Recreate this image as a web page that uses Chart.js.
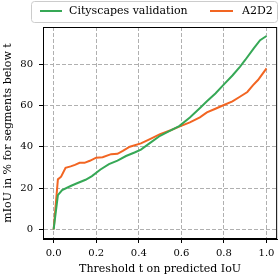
<!DOCTYPE html>
<html>
<head>
<meta charset="utf-8">
<script src="https://cdn.jsdelivr.net/npm/chart.js@4/dist/chart.umd.min.js"></script>
<style>
  html, body { margin: 0; padding: 0; background: #fff; }
  #wrap { width: 279px; height: 279px; }
</style>
</head>
<body>
<div id="wrap"><canvas id="iou-chart" width="279" height="279"></canvas></div>
<script>
// Data
const seriesLabels = ['Cityscapes validation', 'A2D2'];
const seriesColors = ['#36a856', '#f26522'];

const cityX = [0, 0.02, 0.04, 0.08, 0.11, 0.15, 0.18, 0.22, 0.26, 0.3, 0.34, 0.38, 0.41, 0.45,
    0.5, 0.55, 0.59, 0.64, 0.69, 0.72, 0.76, 0.8, 0.84, 0.875, 0.9, 0.94, 0.97, 1.0];
const cityY = [0, 16.6, 19, 21, 22.3, 24, 25.8, 29, 31.6, 33.3, 35.5, 37.2, 38.6, 41.6,
    45.3, 47.9, 50, 54.2, 59, 62, 65.8, 70.2, 74.5, 78.7, 82, 87.6, 91.6, 93.6];

const a2d2X = [0, 0.02, 0.035, 0.056, 0.08, 0.1, 0.122, 0.145, 0.17, 0.2, 0.23, 0.27, 0.3, 0.325,
    0.358, 0.41, 0.45, 0.5, 0.55, 0.59, 0.64, 0.687, 0.72, 0.76, 0.8, 0.84, 0.875, 0.91,
    0.937, 0.96, 0.977, 1.0];
const a2d2Y = [0, 24.2, 25.5, 29.8, 30.5, 31.2, 32.2, 32.2, 33.2, 34.7, 34.9, 36.4, 36.6, 38,
    40, 41.6, 43.6, 46.1, 48, 49.7, 51.8, 54.2, 56.6, 58.4, 60.2, 62, 64.2, 66.5,
    69.8, 72.3, 74.7, 77.9];

const xTicks = [0, 0.2, 0.4, 0.6, 0.8, 1.0];
const yTicks = [0, 20, 40, 60, 80];

const FONT = "'DejaVu Serif', serif";
Chart.defaults.font.family = FONT;
Chart.defaults.font.size = 10;
Chart.defaults.color = '#000';

// Matplotlib-like frame round the plot area
const framePlugin = {
    id: 'frame',
    afterDraw(chart) {
        const a = chart.chartArea;
        const ctx = chart.ctx;
        ctx.save();
        ctx.strokeStyle = '#000';
        ctx.lineWidth = 1;
        ctx.setLineDash([]);
        ctx.strokeRect(a.left + 0.5, a.top + 0.5, a.right - a.left - 1, a.bottom - a.top - 1);
        ctx.restore();
    }
};

// Boxed legend above the plot
const legendPlugin = {
    id: 'boxLegend',
    afterDraw(chart) {
        const ctx = chart.ctx;
        ctx.save();
        ctx.beginPath();
        ctx.roundRect(31.5, 1.5, 246, 21, 3);
        ctx.fillStyle = 'rgba(255,255,255,0.8)';
        ctx.fill();
        ctx.strokeStyle = '#cccccc';
        ctx.lineWidth = 1;
        ctx.stroke();
        const items = [
            { x0: 40, x1: 62, tx: 69 },
            { x0: 210, x1: 233, tx: 242 }
        ];
        ctx.font = '11px ' + FONT;
        ctx.textBaseline = 'middle';
        chart.data.datasets.forEach((ds, i) => {
            const it = items[i];
            ctx.strokeStyle = ds.borderColor;
            ctx.lineWidth = 2;
            ctx.beginPath();
            ctx.moveTo(it.x0, 11);
            ctx.lineTo(it.x1, 11);
            ctx.stroke();
            ctx.fillStyle = '#000';
            ctx.fillText(ds.label, it.tx, 11.5);
        });
        ctx.restore();
    }
};

const gridOpts = {
    color: '#b0b0b0',
    lineWidth: 1,
    tickColor: '#000',
    tickLength: 4,
    tickWidth: 1,
    tickBorderDash: []
};

const ctx = document.getElementById('iou-chart').getContext('2d');
const chart = new Chart(ctx, {
    type: 'scatter',
    data: {
        datasets: [
            {
                label: seriesLabels[0],
                data: cityX.map((x, i) => ({ x: x, y: cityY[i] })),
                borderColor: seriesColors[0],
                backgroundColor: seriesColors[0],
                showLine: true,
                borderWidth: 2,
                pointRadius: 0,
                tension: 0
            },
            {
                label: seriesLabels[1],
                data: a2d2X.map((x, i) => ({ x: x, y: a2d2Y[i] })),
                borderColor: seriesColors[1],
                backgroundColor: seriesColors[1],
                showLine: true,
                borderWidth: 2,
                pointRadius: 0,
                tension: 0
            }
        ]
    },
    options: {
        responsive: false,
        animation: false,
        devicePixelRatio: 1,
        layout: { padding: { top: 27, right: 1, left: 0, bottom: 0 } },
        plugins: {
            legend: { display: false },
            tooltip: { enabled: false }
        },
        scales: {
            x: {
                type: 'linear',
                min: -0.05,
                max: 1.05,
                afterBuildTicks: scale => { scale.ticks = xTicks.map(v => ({ value: v })); },
                afterFit: scale => { scale.height = 40; },
                ticks: {
                    padding: 4.5,
                    maxRotation: 0,
                    callback: v => v.toFixed(1)
                },
                grid: gridOpts,
                border: { display: true, color: '#000', dash: [4, 2] },
                title: {
                    display: true,
                    text: 'Threshold t on predicted IoU',
                    font: { size: 11 },
                    padding: { top: 0, bottom: 3 }
                }
            },
            y: {
                type: 'linear',
                min: -4.67,
                max: 97.97,
                afterBuildTicks: scale => { scale.ticks = yTicks.map(v => ({ value: v })); },
                afterFit: scale => { scale.width = 43; },
                ticks: {
                    padding: 6,
                    callback: v => String(v)
                },
                grid: gridOpts,
                border: { display: true, color: '#000', dash: [4, 2] },
                title: {
                    display: true,
                    text: 'mIoU in % for segments below t',
                    font: { size: 11 },
                    padding: { top: 1.5, bottom: 0 }
                }
            }
        }
    },
    plugins: [framePlugin, legendPlugin]
});
</script>
</body>
</html>
